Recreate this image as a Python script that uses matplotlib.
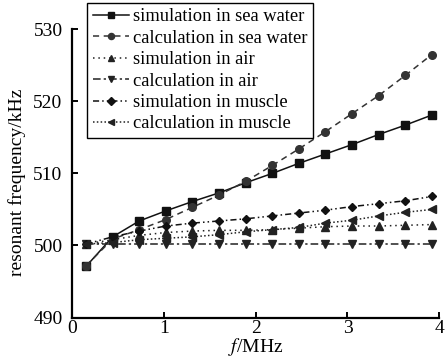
import matplotlib
matplotlib.use("Agg")
import matplotlib.pyplot as plt

plt.rcParams['font.family'] = ['Liberation Serif', 'DejaVu Serif']
plt.rcParams['mathtext.fontset'] = 'stix'

freq = [0.15, 0.44, 0.73, 1.02, 1.31, 1.60, 1.89, 2.18, 2.47, 2.76, 3.05, 3.34, 3.63, 3.92]
sim_sea = [497.1, 501.2, 503.4, 504.8, 506.1, 507.3, 508.7, 510.0, 511.4, 512.7, 514.0, 515.4, 516.7, 518.1]
calc_sea = [497.2, 500.9, 502.2, 503.6, 505.3, 507.0, 508.9, 511.1, 513.4, 515.8, 518.3, 520.8, 523.6, 526.5]
sim_air = [500.2, 500.8, 501.4, 501.8, 502.0, 502.1, 502.1, 502.2, 502.4, 502.6, 502.7, 502.7, 502.8, 502.9]
calc_air = [500.2, 500.2, 500.2, 500.2, 500.2, 500.2, 500.2, 500.2, 500.2, 500.2, 500.2, 500.2, 500.2, 500.2]
sim_muscle = [500.2, 501.2, 502.0, 502.7, 503.1, 503.4, 503.7, 504.1, 504.5, 504.9, 505.4, 505.8, 506.2, 506.8]
calc_muscle = [500.2, 500.4, 500.8, 501.0, 501.2, 501.5, 501.9, 502.2, 502.5, 503.1, 503.5, 504.1, 504.6, 505.0]

labels = ["simulation in sea water", "calculation in sea water", "simulation in air",
          "calculation in air", "simulation in muscle", "calculation in muscle"]
xticks = [0, 1, 2, 3, 4]
yticks = [490, 500, 510, 520, 530]

fig = plt.figure(figsize=(4.45, 3.6), dpi=100)
ax = fig.add_axes([0.1625, 0.118, 0.8245, 0.8006])

series = [sim_sea, calc_sea, sim_air, calc_air, sim_muscle, calc_muscle]
styles = [
    dict(ls='-', marker='s', color='#111111'),
    dict(ls=(0, (4, 3)), marker='o', color='#333333'),
    dict(ls=(0, (1, 2.5)), marker='^', color='#222222'),
    dict(ls=(0, (5, 2, 1.5, 2)), marker='v', color='#222222'),
    dict(ls=(0, (4, 2, 1, 2, 1, 2)), marker='D', color='#111111'),
    dict(ls=(0, (1, 1.5)), marker='<', color='#222222'),
]
for ys, st, lab in zip(series, styles, labels):
    ms = 4.5 if st['marker'] == 'D' else 5.5
    ax.plot(freq, ys, lw=1.1, ms=ms, label=lab, **st)

ax.set_xlim(0, 4)
ax.set_ylim(490, 530)
ax.set_xticks(xticks)
ax.set_yticks(yticks)
ax.spines['top'].set_visible(False)
ax.spines['right'].set_visible(False)
for s in ('left', 'bottom'):
    ax.spines[s].set_linewidth(1.6)
ax.tick_params(direction='in', length=4, width=1.4, labelsize=14)
ax.tick_params(axis='y', pad=7)
ax.tick_params(axis='x', pad=2)
ax.set_xlabel(r'$\mathit{f}$/MHz', fontsize=14, labelpad=-1)
ax.set_ylabel('resonant frequency/kHz', fontsize=14)
ax.yaxis.set_label_coords(-0.127, 0.47)

leg = ax.legend(loc='upper left', bbox_to_anchor=(0.04, 1.092), fontsize=13.3,
                frameon=True, fancybox=False, handlelength=2.0, handletextpad=0.2,
                borderpad=0.3, labelspacing=0.24, borderaxespad=0, markerscale=0.8)
leg.get_frame().set_edgecolor('black')
leg.get_frame().set_linewidth(1.0)
leg.get_frame().set_alpha(1)

fig.savefig('out.png', dpi=100)
